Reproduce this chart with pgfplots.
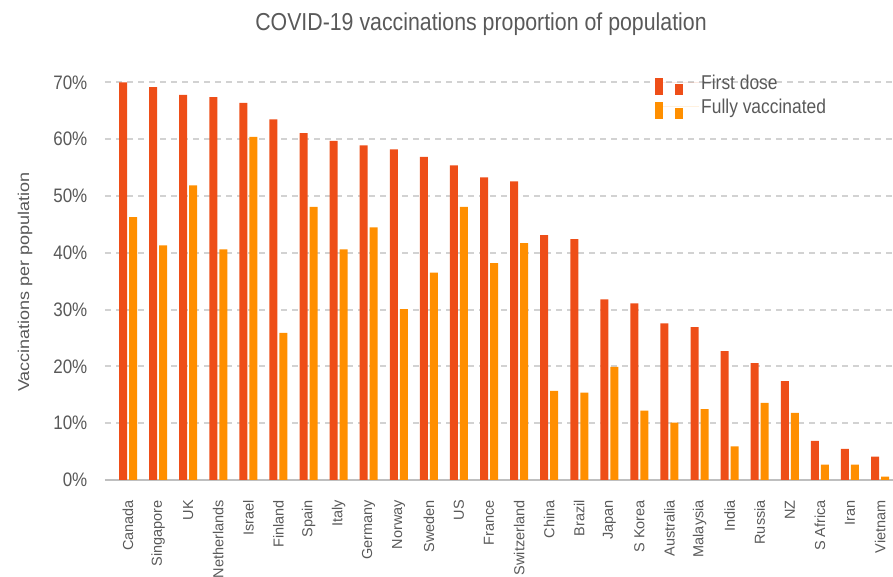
\documentclass[border=0pt]{standalone}
\usepackage{pgfplots}
\usepackage{pgfplotstable}
\usepackage{graphicx}
\usepackage{fontspec}
\setmainfont{Liberation Sans}
\pgfplotsset{compat=1.18}
\definecolor{firstc}{RGB}{238,78,24}
\definecolor{fullc}{RGB}{255,143,0}
\definecolor{txtgray}{RGB}{89,89,89}
\definecolor{gridgray}{RGB}{210,210,210}
\definecolor{axgray}{RGB}{191,191,191}
\newcommand{\sh}[1]{\scalebox{0.87}[1]{#1}}
\newcommand{\sv}[1]{\scalebox{1}[0.87]{#1}}
\pgfplotstableread{
idx first full
0 70.0 46.3
1 69.2 41.3
2 67.8 51.9
3 67.4 40.6
4 66.4 60.4
5 63.5 25.9
6 61.1 48.1
7 59.7 40.6
8 58.9 44.5
9 58.2 30.1
10 56.9 36.5
11 55.4 48.1
12 53.3 38.2
13 52.6 41.7
14 43.1 15.7
15 42.4 15.4
16 31.8 19.9
17 31.1 12.2
18 27.6 10.1
19 26.9 12.5
20 22.7 5.9
21 20.6 13.6
22 17.4 11.8
23 6.9 2.7
24 5.5 2.7
25 4.1 0.6
}\data
\begin{document}
\begin{tikzpicture}
\begin{axis}[
  at={(0pt,0pt)}, anchor=south west,
  scale only axis,
  width=788pt, height=408.9pt,
  xmin=-0.765, xmax=25.43,
  ymin=0, ymax=72,
  ybar=2pt, bar width=8pt,
  axis x line*=bottom, axis y line*=left,
  x axis line style={draw=axgray, line width=2.5pt, -},
  y axis line style={draw=none},
  major tick length=0pt,
  xtick={0,...,25},
  xticklabels={Canada,Singapore,UK,Netherlands,Israel,Finland,Spain,Italy,Germany,Norway,Sweden,US,France,Switzerland,China,Brazil,Japan,{S Korea},Australia,Malaysia,India,Russia,NZ,{S Africa},Iran,Vietnam},
  xticklabel style={font=\fontsize{14.5}{16}\selectfont, text=txtgray, inner sep=0pt, yshift=-20pt, rotate=90, anchor=east},
  ytick={0,10,...,70},
  yticklabels={\sh{0\%},\sh{10\%},\sh{20\%},\sh{30\%},\sh{40\%},\sh{50\%},\sh{60\%},\sh{70\%}},
  yticklabel style={font=\fontsize{19.5}{22}\selectfont, text=txtgray, inner sep=0pt, anchor=east, xshift=-17.5pt},
  ymajorgrids,
  grid style={draw=gridgray, line width=2pt, dash pattern=on 6pt off 5pt},
  legend style={at={(axis description cs:0.698,0.997)}, anchor=north west, draw=none, fill=none,
    font=\fontsize{20}{24}\selectfont, text=txtgray, row sep=2pt, inner sep=0pt},
  legend cell align=left,
  legend image code/.code={
    \fill[#1] (0pt,-12pt) rectangle (8pt,5pt);
    \fill[#1] (20pt,-12pt) rectangle (28pt,-1pt);
    \path (0pt,0pt) -- (44pt,0pt);
  },
]
\addplot[fill=firstc, draw=none] table[x=idx, y=first] {\data};
\addlegendentry{\sh{First dose}}
\addplot[fill=fullc, draw=none] table[x=idx, y=full] {\data};
\addlegendentry{\sh{Fully vaccinated}}
\end{axis}
\node[anchor=base, font=\fontsize{24.5}{28}\selectfont, text=txtgray] at (376pt,449pt) {\sh{COVID-19 vaccinations proportion of population}};
\node[rotate=90, anchor=center, font=\fontsize{18}{21}\selectfont, text=txtgray] at (-80pt,198pt) {\sv{Vaccinations per population}};
\pgfresetboundingbox
\path[use as bounding box] (-105pt,-97pt) rectangle (788pt,480pt);
\end{tikzpicture}
\end{document}
